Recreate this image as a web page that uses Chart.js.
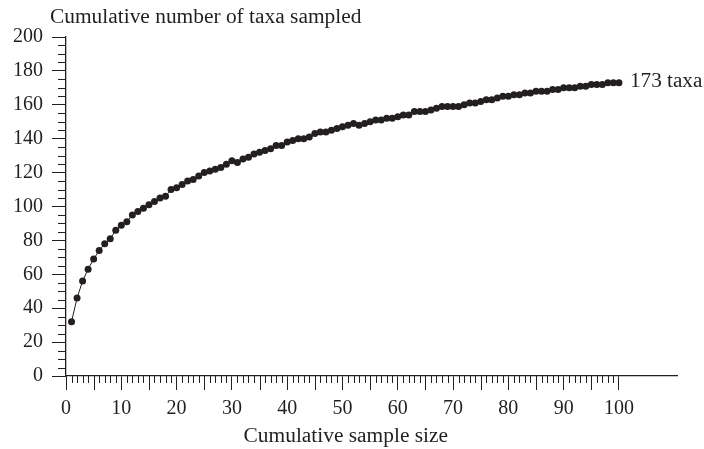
<!DOCTYPE html>
<html>
<head>
<meta charset="utf-8">
<script src="https://cdn.jsdelivr.net/npm/chart.js@4.4.0/dist/chart.umd.min.js"></script>
<style>
  html, body { margin: 0; padding: 0; background: #ffffff; }
  #wrap { width: 704px; height: 449px; }
</style>
</head>
<body>
<div id="wrap"><canvas id="c" width="704" height="449"></canvas></div>
<script>
// ---- data ----
const sampleSize = [];
for (let i = 1; i <= 100; i++) sampleSize.push(i);
const taxaCount = [
  32, 46, 56, 63, 69, 74, 78, 81, 86, 89,
  91, 95, 97, 99, 101, 103, 105, 106, 110, 111,
  113, 115, 116, 118, 120, 121, 122, 123, 125, 127,
  126, 128, 129, 131, 132, 133, 134, 136, 136, 138,
  139, 140, 140, 141, 143, 144, 144, 145, 146, 147,
  148, 149, 148, 149, 150, 151, 151, 152, 152, 153,
  154, 154, 156, 156, 156, 157, 158, 159, 159, 159,
  159, 160, 161, 161, 162, 163, 163, 164, 165, 165,
  166, 166, 167, 167, 168, 168, 168, 169, 169, 170,
  170, 170, 171, 171, 172, 172, 172, 173, 173, 173
];
const xTickValues = [0, 10, 20, 30, 40, 50, 60, 70, 80, 90, 100];
const yTickValues = [0, 20, 40, 60, 80, 100, 120, 140, 160, 180, 200];
const yAxisTitle = "Cumulative number of taxa sampled";
const xAxisTitle = "Cumulative sample size";
const endLabel = "173 taxa";

const INK = '#231f20';
const FONT = 'Liberation Serif, "Times New Roman", serif';

function stretchedText(ctx, text, x, y, align, sx) {
  ctx.save();
  const w = ctx.measureText(text).width * sx;
  let left = x;
  if (align === 'center') left = x - w / 2;
  else if (align === 'right') left = x - w;
  ctx.translate(left, y);
  ctx.scale(sx, 1);
  ctx.textAlign = 'left';
  ctx.fillText(text, 0, 0);
  ctx.restore();
}

const minorTicks = {
  id: 'minorTicks',
  afterDraw(chart) {
    const ctx = chart.ctx;
    const xs = chart.scales.x, ys = chart.scales.y;
    const axisY = ys.getPixelForValue(0);
    const axisX = xs.getPixelForValue(0);
    ctx.save();
    ctx.strokeStyle = INK;
    ctx.lineWidth = 1;
    ctx.beginPath();
    for (let v = 1; v <= 100; v++) {
      if (v % 10 === 0) continue;
      const len = (v % 5 === 0) ? 14 : 7;
      const px = Math.round(xs.getPixelForValue(v)) + 0.5;
      ctx.moveTo(px, axisY);
      ctx.lineTo(px, axisY + len);
    }
    for (let v = 5; v < 200; v += 5) {
      if (v % 20 === 0) continue;
      const py = Math.round(ys.getPixelForValue(v)) + 0.5;
      ctx.moveTo(axisX - 8, py);
      ctx.lineTo(axisX, py);
    }
    ctx.stroke();
    // texts
    ctx.fillStyle = INK;
    ctx.font = '20px ' + FONT;
    ctx.textBaseline = 'alphabetic';
    stretchedText(ctx, yAxisTitle, 50, 23, 'left', 1.07);
    stretchedText(ctx, xAxisTitle, 448, 442, 'right', 1.07);
    const meta = chart.getDatasetMeta(0);
    const last = meta.data[meta.data.length - 1];
    stretchedText(ctx, endLabel, last.x + 11, last.y + 4, 'left', 1.06);
    ctx.restore();
  }
};

new Chart(document.getElementById('c'), {
  type: 'line',
  data: {
    labels: sampleSize,
    datasets: [{
      data: sampleSize.map((x, i) => ({ x: x, y: taxaCount[i] })),
      borderColor: INK,
      borderWidth: 1,
      pointRadius: 3.5,
      pointBorderWidth: 0,
      pointBackgroundColor: INK,
      tension: 0,
      clip: false
    }]
  },
  options: {
    responsive: false,
    animation: false,
    devicePixelRatio: 1,
    layout: { padding: { left: 0, right: 27, top: 37, bottom: 0 } },
    plugins: { legend: { display: false }, tooltip: { enabled: false }, title: { display: false } },
    scales: {
      x: {
        type: 'linear',
        min: 0,
        max: 110.5,
        afterBuildTicks: (s) => { s.ticks = xTickValues.map(v => ({ value: v })); },
        afterFit: (s) => { s.height = 73; },
        ticks: { color: INK, font: { family: FONT, size: 20 }, padding: 7, maxRotation: 0, autoSkip: false },
        grid: { display: true, drawOnChartArea: false, drawTicks: true, tickLength: 14, tickColor: INK, tickWidth: 1 },
        border: { display: true, color: INK, width: 1.3 }
      },
      y: {
        type: 'linear',
        min: 0,
        max: 200,
        afterBuildTicks: (s) => { s.ticks = yTickValues.map(v => ({ value: v })); },
        afterFit: (s) => { s.width = 66; },
        ticks: { color: INK, font: { family: FONT, size: 20 }, padding: 9, autoSkip: false },
        grid: { display: true, drawOnChartArea: false, drawTicks: true, tickLength: 14, tickColor: INK, tickWidth: 1 },
        border: { display: true, color: INK, width: 1.3 }
      }
    }
  },
  plugins: [minorTicks]
});
</script>
</body>
</html>
